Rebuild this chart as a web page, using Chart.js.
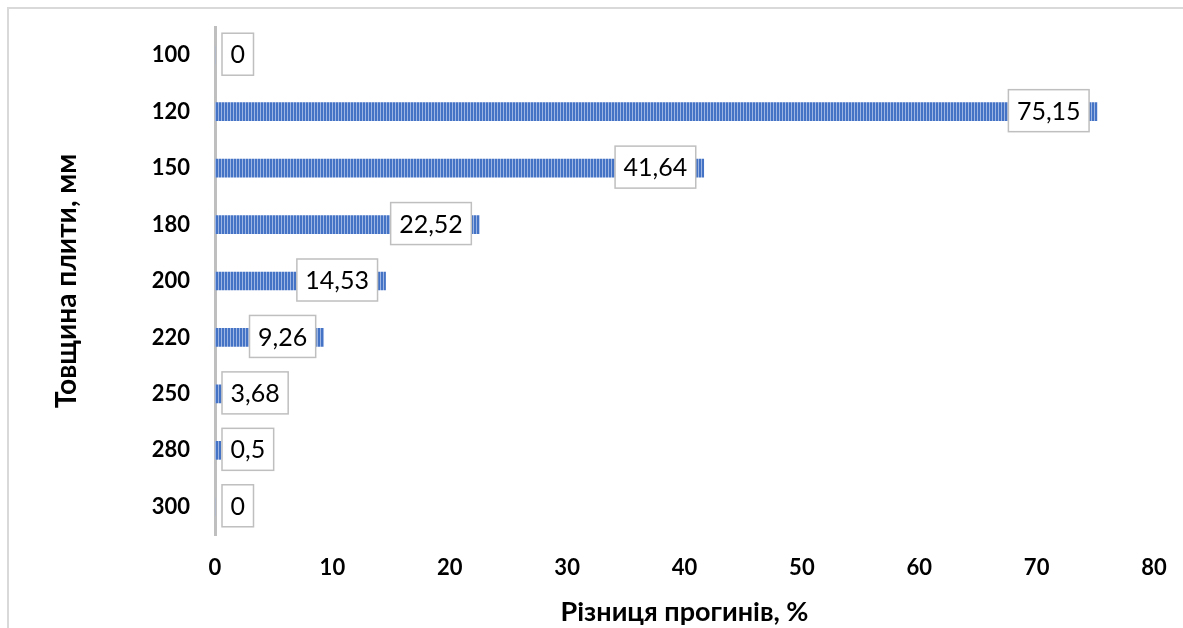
<!DOCTYPE html>
<html>
<head>
<meta charset="utf-8">
<script src="https://cdn.jsdelivr.net/npm/chart.js@4/dist/chart.umd.min.js"></script>
<style>
  html, body { margin: 0; padding: 0; background: #fff; }
  #wrap { width: 1183px; height: 628px; }
</style>
</head>
<body>
<div id="wrap"><canvas id="deflectionChart" width="1183" height="628"></canvas></div>
<script>
// slab thickness, mm
var thickness = ['100', '120', '150', '180', '200', '220', '250', '280', '300'];
// deflection difference, %
var deflectionDiff = [0, 75.15, 41.64, 22.52, 14.53, 9.26, 3.68, 0.5, 0];
var xTicks = [0, 10, 20, 30, 40, 50, 60, 70, 80];

var FONT = 'Lato, "Open Sans", sans-serif';

// striped fill for the bars (dark blue with thin light lines)
function stripePattern() {
    var c = document.createElement('canvas');
    c.width = 3;
    c.height = 4;
    var g = c.getContext('2d');
    g.fillStyle = '#4472C4';
    g.fillRect(0, 0, 3, 4);
    g.fillStyle = '#9DB5E2';
    g.fillRect(2, 0, 1, 4);
    return g.createPattern(c, 'repeat');
}

function fmt(v) {
    return String(v).replace('.', ',');
}

// light frame round the chart (top and left edges)
var framePlugin = {
    id: 'frame',
    beforeDraw: function(chart) {
        var ctx = chart.ctx;
        ctx.save();
        ctx.strokeStyle = '#D9D9D9';
        ctx.lineWidth = 2;
        ctx.beginPath();
        ctx.moveTo(8, 628);
        ctx.lineTo(8, 8);
        ctx.lineTo(1183, 8);
        ctx.stroke();
        ctx.restore();
    }
};

// boxed value labels at the inner end of each bar
var boxLabels = {
    id: 'boxLabels',
    afterDatasetsDraw: function(chart) {
        var ctx = chart.ctx;
        var meta = chart.getDatasetMeta(0);
        var x0 = chart.scales.x.getPixelForValue(0);
        ctx.save();
        ctx.font = '25px ' + FONT;
        ctx.textBaseline = 'middle';
        ctx.textAlign = 'center';
        meta.data.forEach(function(bar, i) {
            var txt = fmt(deflectionDiff[i]);
            var w = ctx.measureText(txt).width + 17;
            var h = 42;
            var left = Math.max(bar.x - 8 - w, x0 + 7);
            var top = bar.y - h / 2 - 1;
            ctx.fillStyle = '#FFFFFF';
            ctx.fillRect(left, top, w, h);
            ctx.strokeStyle = '#BFBFBF';
            ctx.lineWidth = 1.5;
            ctx.strokeRect(left, top, w, h);
            ctx.fillStyle = '#000000';
            ctx.fillText(txt, left + w / 2, bar.y);
        });
        ctx.restore();
    }
};

var ctx = document.getElementById('deflectionChart').getContext('2d');
new Chart(ctx, {
    type: 'bar',
    data: {
        labels: thickness,
        datasets: [{
            data: deflectionDiff,
            backgroundColor: stripePattern(),
            borderWidth: 0,
            barThickness: 18
        }]
    },
    options: {
        indexAxis: 'y',
        responsive: false,
        animation: false,
        layout: { padding: { left: 10, top: 27, right: 29, bottom: 0 } },
        plugins: {
            legend: { display: false },
            tooltip: { enabled: false }
        },
        scales: {
            x: {
                min: 0,
                max: 80,
                afterBuildTicks: function(scale) {
                    scale.ticks = xTicks.map(function(v) { return { value: v }; });
                },
                afterFit: function(scale) {
                    scale.height = 93;
                    scale.paddingLeft = 0;
                    scale.paddingRight = 0;
                },
                grid: { display: false, drawTicks: false },
                border: { display: false },
                ticks: {
                    padding: 20,
                    color: '#000',
                    font: { family: FONT, size: 22, weight: 'bold' }
                },
                title: {
                    display: true,
                    text: 'Різниця прогинів, %',
                    color: '#000',
                    padding: { top: 0, bottom: 0 },
                    font: { family: FONT, size: 27, weight: 'bold' }
                }
            },
            y: {
                afterFit: function(scale) {
                    scale.width = 205;
                    // keep the tick padding from pushing the plot area down
                    scale.paddingTop = 0;
                    scale.paddingBottom = 0;
                },
                grid: { display: false, drawTicks: false },
                border: { display: true, color: '#BFBFBF', width: 3 },
                ticks: {
                    padding: 25,
                    color: '#000',
                    font: { family: FONT, size: 22, weight: 'bold' }
                },
                title: {
                    display: true,
                    text: 'Товщина плити, мм',
                    color: '#000',
                    padding: { top: 40, bottom: 0 },
                    font: { family: FONT, size: 28, weight: 'bold' }
                }
            }
        }
    },
    plugins: [framePlugin, boxLabels]
});
</script>
</body>
</html>
